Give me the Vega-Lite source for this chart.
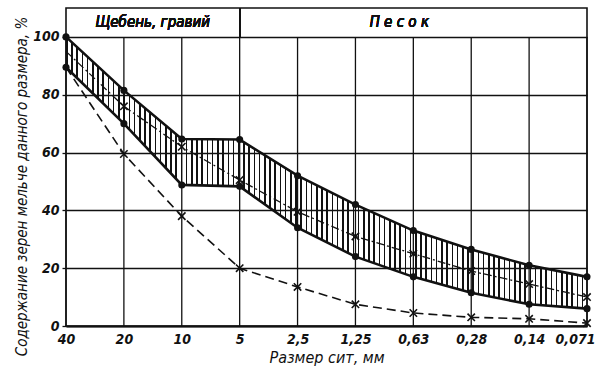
{
  "$schema": "https://vega.github.io/schema/vega-lite/v6.json",
  "autosize": "none",
  "width": 521,
  "height": 318,
  "padding": {"left": 66, "top": 8, "right": 13, "bottom": 48},
  "background": "white",
  "config": {
    "view": {"stroke": "#111", "strokeWidth": 1.6},
    "font": "DejaVu Sans Condensed"
  },
  "data": {
    "values": [
      {"s": "40", "hi": 100, "lo": 89.5, "mid": 95, "low": 89.5},
      {"s": "20", "hi": 81.5, "lo": 70, "mid": 76, "low": 59.5},
      {"s": "10", "hi": 64.7, "lo": 48.8, "mid": 62, "low": 38},
      {"s": "5", "hi": 64.5, "lo": 48.3, "mid": 50.5, "low": 20},
      {"s": "2,5", "hi": 52, "lo": 34, "mid": 39.5, "low": 13.5},
      {"s": "1,25", "hi": 42, "lo": 24, "mid": 31, "low": 7.5},
      {"s": "0,63", "hi": 33, "lo": 17, "mid": 25, "low": 4.5},
      {"s": "0,28", "hi": 26.5, "lo": 11.5, "mid": 19, "low": 3},
      {"s": "0,14", "hi": 21, "lo": 7.5, "mid": 14.5, "low": 2.5},
      {"s": "0,071", "hi": 17, "lo": 6, "mid": 10, "low": 1}
    ]
  },
  "encoding": {
    "x": {
      "field": "s",
      "type": "ordinal",
      "scale": {"type": "point", "padding": 0, "domain": ["40", "20", "10", "5", "2,5", "1,25", "0,63", "0,28", "0,14", "0,071"]},
      "axis": {
        "title": "Размер сит, мм",
        "labelAngle": 0,
        "labelFont": "DejaVu Sans Condensed",
        "labelFontSize": 14,
        "labelFontStyle": "italic",
        "labelFontWeight": "bold",
        "labelColor": "#111",
        "labelPadding": 6,
        "labelAlign": "center",
        "labelOffset": {"condition": {"test": "datum.value == '0,071'", "value": -12}, "value": 0},
        "labelOverlap": false,
        "labelBound": false,
        "ticks": false,
        "domain": true,
        "domainColor": "#111",
        "domainWidth": 2.2,
        "grid": false,
        "titleFont": "DejaVu Sans Condensed",
        "titleFontSize": 16,
        "titleFontStyle": "italic",
        "titleFontWeight": "normal",
        "titleColor": "#111",
        "titlePadding": 3
      }
    }
  },
  "layer": [
    {
      "mark": {"type": "rule", "color": "#111", "strokeWidth": 1.3},
      "encoding": {"y": {"datum": 0}, "y2": {"datum": 100}}
    },
    {
      "mark": {"type": "rule", "color": "#111", "strokeWidth": 1.3},
      "encoding": {"x": {"datum": "5"}, "y": {"datum": 100}, "y2": {"datum": 110}}
    },
    {
      "mark": {
        "type": "area",
        "color": {
          "gradient": "linear", "x1": 0, "x2": 1, "y1": 0, "y2": 0,
          "stops": [
            {"offset":0,"color":"#111"},{"offset":0.003,"color":"#111"},{"offset":0.003,"color":"transparent"},{"offset":0.01,"color":"transparent"},
            {"offset":0.01,"color":"#111"},{"offset":0.013,"color":"#111"},{"offset":0.013,"color":"transparent"},{"offset":0.02,"color":"transparent"},
            {"offset":0.02,"color":"#111"},{"offset":0.023,"color":"#111"},{"offset":0.023,"color":"transparent"},{"offset":0.03,"color":"transparent"},
            {"offset":0.03,"color":"#111"},{"offset":0.033,"color":"#111"},{"offset":0.033,"color":"transparent"},{"offset":0.04,"color":"transparent"},
            {"offset":0.04,"color":"#111"},{"offset":0.043,"color":"#111"},{"offset":0.043,"color":"transparent"},{"offset":0.05,"color":"transparent"},
            {"offset":0.05,"color":"#111"},{"offset":0.053,"color":"#111"},{"offset":0.053,"color":"transparent"},{"offset":0.06,"color":"transparent"},
            {"offset":0.06,"color":"#111"},{"offset":0.063,"color":"#111"},{"offset":0.063,"color":"transparent"},{"offset":0.07,"color":"transparent"},
            {"offset":0.07,"color":"#111"},{"offset":0.073,"color":"#111"},{"offset":0.073,"color":"transparent"},{"offset":0.08,"color":"transparent"},
            {"offset":0.08,"color":"#111"},{"offset":0.083,"color":"#111"},{"offset":0.083,"color":"transparent"},{"offset":0.09,"color":"transparent"},
            {"offset":0.09,"color":"#111"},{"offset":0.093,"color":"#111"},{"offset":0.093,"color":"transparent"},{"offset":0.1,"color":"transparent"},
            {"offset":0.1,"color":"#111"},{"offset":0.103,"color":"#111"},{"offset":0.103,"color":"transparent"},{"offset":0.11,"color":"transparent"},
            {"offset":0.11,"color":"#111"},{"offset":0.113,"color":"#111"},{"offset":0.113,"color":"transparent"},{"offset":0.12,"color":"transparent"},
            {"offset":0.12,"color":"#111"},{"offset":0.123,"color":"#111"},{"offset":0.123,"color":"transparent"},{"offset":0.13,"color":"transparent"},
            {"offset":0.13,"color":"#111"},{"offset":0.133,"color":"#111"},{"offset":0.133,"color":"transparent"},{"offset":0.14,"color":"transparent"},
            {"offset":0.14,"color":"#111"},{"offset":0.143,"color":"#111"},{"offset":0.143,"color":"transparent"},{"offset":0.15,"color":"transparent"},
            {"offset":0.15,"color":"#111"},{"offset":0.153,"color":"#111"},{"offset":0.153,"color":"transparent"},{"offset":0.16,"color":"transparent"},
            {"offset":0.16,"color":"#111"},{"offset":0.163,"color":"#111"},{"offset":0.163,"color":"transparent"},{"offset":0.17,"color":"transparent"},
            {"offset":0.17,"color":"#111"},{"offset":0.173,"color":"#111"},{"offset":0.173,"color":"transparent"},{"offset":0.18,"color":"transparent"},
            {"offset":0.18,"color":"#111"},{"offset":0.183,"color":"#111"},{"offset":0.183,"color":"transparent"},{"offset":0.19,"color":"transparent"},
            {"offset":0.19,"color":"#111"},{"offset":0.193,"color":"#111"},{"offset":0.193,"color":"transparent"},{"offset":0.2,"color":"transparent"},
            {"offset":0.2,"color":"#111"},{"offset":0.203,"color":"#111"},{"offset":0.203,"color":"transparent"},{"offset":0.21,"color":"transparent"},
            {"offset":0.21,"color":"#111"},{"offset":0.213,"color":"#111"},{"offset":0.213,"color":"transparent"},{"offset":0.22,"color":"transparent"},
            {"offset":0.22,"color":"#111"},{"offset":0.223,"color":"#111"},{"offset":0.223,"color":"transparent"},{"offset":0.23,"color":"transparent"},
            {"offset":0.23,"color":"#111"},{"offset":0.233,"color":"#111"},{"offset":0.233,"color":"transparent"},{"offset":0.24,"color":"transparent"},
            {"offset":0.24,"color":"#111"},{"offset":0.243,"color":"#111"},{"offset":0.243,"color":"transparent"},{"offset":0.25,"color":"transparent"},
            {"offset":0.25,"color":"#111"},{"offset":0.253,"color":"#111"},{"offset":0.253,"color":"transparent"},{"offset":0.26,"color":"transparent"},
            {"offset":0.26,"color":"#111"},{"offset":0.263,"color":"#111"},{"offset":0.263,"color":"transparent"},{"offset":0.27,"color":"transparent"},
            {"offset":0.27,"color":"#111"},{"offset":0.273,"color":"#111"},{"offset":0.273,"color":"transparent"},{"offset":0.28,"color":"transparent"},
            {"offset":0.28,"color":"#111"},{"offset":0.283,"color":"#111"},{"offset":0.283,"color":"transparent"},{"offset":0.29,"color":"transparent"},
            {"offset":0.29,"color":"#111"},{"offset":0.293,"color":"#111"},{"offset":0.293,"color":"transparent"},{"offset":0.3,"color":"transparent"},
            {"offset":0.3,"color":"#111"},{"offset":0.303,"color":"#111"},{"offset":0.303,"color":"transparent"},{"offset":0.31,"color":"transparent"},
            {"offset":0.31,"color":"#111"},{"offset":0.313,"color":"#111"},{"offset":0.313,"color":"transparent"},{"offset":0.32,"color":"transparent"},
            {"offset":0.32,"color":"#111"},{"offset":0.323,"color":"#111"},{"offset":0.323,"color":"transparent"},{"offset":0.33,"color":"transparent"},
            {"offset":0.33,"color":"#111"},{"offset":0.333,"color":"#111"},{"offset":0.333,"color":"transparent"},{"offset":0.34,"color":"transparent"},
            {"offset":0.34,"color":"#111"},{"offset":0.343,"color":"#111"},{"offset":0.343,"color":"transparent"},{"offset":0.35,"color":"transparent"},
            {"offset":0.35,"color":"#111"},{"offset":0.353,"color":"#111"},{"offset":0.353,"color":"transparent"},{"offset":0.36,"color":"transparent"},
            {"offset":0.36,"color":"#111"},{"offset":0.363,"color":"#111"},{"offset":0.363,"color":"transparent"},{"offset":0.37,"color":"transparent"},
            {"offset":0.37,"color":"#111"},{"offset":0.373,"color":"#111"},{"offset":0.373,"color":"transparent"},{"offset":0.38,"color":"transparent"},
            {"offset":0.38,"color":"#111"},{"offset":0.383,"color":"#111"},{"offset":0.383,"color":"transparent"},{"offset":0.39,"color":"transparent"},
            {"offset":0.39,"color":"#111"},{"offset":0.393,"color":"#111"},{"offset":0.393,"color":"transparent"},{"offset":0.4,"color":"transparent"},
            {"offset":0.4,"color":"#111"},{"offset":0.403,"color":"#111"},{"offset":0.403,"color":"transparent"},{"offset":0.41,"color":"transparent"},
            {"offset":0.41,"color":"#111"},{"offset":0.413,"color":"#111"},{"offset":0.413,"color":"transparent"},{"offset":0.42,"color":"transparent"},
            {"offset":0.42,"color":"#111"},{"offset":0.423,"color":"#111"},{"offset":0.423,"color":"transparent"},{"offset":0.43,"color":"transparent"},
            {"offset":0.43,"color":"#111"},{"offset":0.433,"color":"#111"},{"offset":0.433,"color":"transparent"},{"offset":0.44,"color":"transparent"},
            {"offset":0.44,"color":"#111"},{"offset":0.443,"color":"#111"},{"offset":0.443,"color":"transparent"},{"offset":0.45,"color":"transparent"},
            {"offset":0.45,"color":"#111"},{"offset":0.453,"color":"#111"},{"offset":0.453,"color":"transparent"},{"offset":0.46,"color":"transparent"},
            {"offset":0.46,"color":"#111"},{"offset":0.463,"color":"#111"},{"offset":0.463,"color":"transparent"},{"offset":0.47,"color":"transparent"},
            {"offset":0.47,"color":"#111"},{"offset":0.473,"color":"#111"},{"offset":0.473,"color":"transparent"},{"offset":0.48,"color":"transparent"},
            {"offset":0.48,"color":"#111"},{"offset":0.483,"color":"#111"},{"offset":0.483,"color":"transparent"},{"offset":0.49,"color":"transparent"},
            {"offset":0.49,"color":"#111"},{"offset":0.493,"color":"#111"},{"offset":0.493,"color":"transparent"},{"offset":0.5,"color":"transparent"},
            {"offset":0.5,"color":"#111"},{"offset":0.503,"color":"#111"},{"offset":0.503,"color":"transparent"},{"offset":0.51,"color":"transparent"},
            {"offset":0.51,"color":"#111"},{"offset":0.513,"color":"#111"},{"offset":0.513,"color":"transparent"},{"offset":0.52,"color":"transparent"},
            {"offset":0.52,"color":"#111"},{"offset":0.523,"color":"#111"},{"offset":0.523,"color":"transparent"},{"offset":0.53,"color":"transparent"},
            {"offset":0.53,"color":"#111"},{"offset":0.533,"color":"#111"},{"offset":0.533,"color":"transparent"},{"offset":0.54,"color":"transparent"},
            {"offset":0.54,"color":"#111"},{"offset":0.543,"color":"#111"},{"offset":0.543,"color":"transparent"},{"offset":0.55,"color":"transparent"},
            {"offset":0.55,"color":"#111"},{"offset":0.553,"color":"#111"},{"offset":0.553,"color":"transparent"},{"offset":0.56,"color":"transparent"},
            {"offset":0.56,"color":"#111"},{"offset":0.563,"color":"#111"},{"offset":0.563,"color":"transparent"},{"offset":0.57,"color":"transparent"},
            {"offset":0.57,"color":"#111"},{"offset":0.573,"color":"#111"},{"offset":0.573,"color":"transparent"},{"offset":0.58,"color":"transparent"},
            {"offset":0.58,"color":"#111"},{"offset":0.583,"color":"#111"},{"offset":0.583,"color":"transparent"},{"offset":0.59,"color":"transparent"},
            {"offset":0.59,"color":"#111"},{"offset":0.593,"color":"#111"},{"offset":0.593,"color":"transparent"},{"offset":0.6,"color":"transparent"},
            {"offset":0.6,"color":"#111"},{"offset":0.603,"color":"#111"},{"offset":0.603,"color":"transparent"},{"offset":0.61,"color":"transparent"},
            {"offset":0.61,"color":"#111"},{"offset":0.613,"color":"#111"},{"offset":0.613,"color":"transparent"},{"offset":0.62,"color":"transparent"},
            {"offset":0.62,"color":"#111"},{"offset":0.623,"color":"#111"},{"offset":0.623,"color":"transparent"},{"offset":0.63,"color":"transparent"},
            {"offset":0.63,"color":"#111"},{"offset":0.633,"color":"#111"},{"offset":0.633,"color":"transparent"},{"offset":0.64,"color":"transparent"},
            {"offset":0.64,"color":"#111"},{"offset":0.643,"color":"#111"},{"offset":0.643,"color":"transparent"},{"offset":0.65,"color":"transparent"},
            {"offset":0.65,"color":"#111"},{"offset":0.653,"color":"#111"},{"offset":0.653,"color":"transparent"},{"offset":0.66,"color":"transparent"},
            {"offset":0.66,"color":"#111"},{"offset":0.663,"color":"#111"},{"offset":0.663,"color":"transparent"},{"offset":0.67,"color":"transparent"},
            {"offset":0.67,"color":"#111"},{"offset":0.673,"color":"#111"},{"offset":0.673,"color":"transparent"},{"offset":0.68,"color":"transparent"},
            {"offset":0.68,"color":"#111"},{"offset":0.683,"color":"#111"},{"offset":0.683,"color":"transparent"},{"offset":0.69,"color":"transparent"},
            {"offset":0.69,"color":"#111"},{"offset":0.693,"color":"#111"},{"offset":0.693,"color":"transparent"},{"offset":0.7,"color":"transparent"},
            {"offset":0.7,"color":"#111"},{"offset":0.703,"color":"#111"},{"offset":0.703,"color":"transparent"},{"offset":0.71,"color":"transparent"},
            {"offset":0.71,"color":"#111"},{"offset":0.713,"color":"#111"},{"offset":0.713,"color":"transparent"},{"offset":0.72,"color":"transparent"},
            {"offset":0.72,"color":"#111"},{"offset":0.723,"color":"#111"},{"offset":0.723,"color":"transparent"},{"offset":0.73,"color":"transparent"},
            {"offset":0.73,"color":"#111"},{"offset":0.733,"color":"#111"},{"offset":0.733,"color":"transparent"},{"offset":0.74,"color":"transparent"},
            {"offset":0.74,"color":"#111"},{"offset":0.743,"color":"#111"},{"offset":0.743,"color":"transparent"},{"offset":0.75,"color":"transparent"},
            {"offset":0.75,"color":"#111"},{"offset":0.753,"color":"#111"},{"offset":0.753,"color":"transparent"},{"offset":0.76,"color":"transparent"},
            {"offset":0.76,"color":"#111"},{"offset":0.763,"color":"#111"},{"offset":0.763,"color":"transparent"},{"offset":0.77,"color":"transparent"},
            {"offset":0.77,"color":"#111"},{"offset":0.773,"color":"#111"},{"offset":0.773,"color":"transparent"},{"offset":0.78,"color":"transparent"},
            {"offset":0.78,"color":"#111"},{"offset":0.783,"color":"#111"},{"offset":0.783,"color":"transparent"},{"offset":0.79,"color":"transparent"},
            {"offset":0.79,"color":"#111"},{"offset":0.793,"color":"#111"},{"offset":0.793,"color":"transparent"},{"offset":0.8,"color":"transparent"},
            {"offset":0.8,"color":"#111"},{"offset":0.803,"color":"#111"},{"offset":0.803,"color":"transparent"},{"offset":0.81,"color":"transparent"},
            {"offset":0.81,"color":"#111"},{"offset":0.813,"color":"#111"},{"offset":0.813,"color":"transparent"},{"offset":0.82,"color":"transparent"},
            {"offset":0.82,"color":"#111"},{"offset":0.823,"color":"#111"},{"offset":0.823,"color":"transparent"},{"offset":0.83,"color":"transparent"},
            {"offset":0.83,"color":"#111"},{"offset":0.833,"color":"#111"},{"offset":0.833,"color":"transparent"},{"offset":0.84,"color":"transparent"},
            {"offset":0.84,"color":"#111"},{"offset":0.843,"color":"#111"},{"offset":0.843,"color":"transparent"},{"offset":0.85,"color":"transparent"},
            {"offset":0.85,"color":"#111"},{"offset":0.853,"color":"#111"},{"offset":0.853,"color":"transparent"},{"offset":0.86,"color":"transparent"},
            {"offset":0.86,"color":"#111"},{"offset":0.863,"color":"#111"},{"offset":0.863,"color":"transparent"},{"offset":0.87,"color":"transparent"},
            {"offset":0.87,"color":"#111"},{"offset":0.873,"color":"#111"},{"offset":0.873,"color":"transparent"},{"offset":0.88,"color":"transparent"},
            {"offset":0.88,"color":"#111"},{"offset":0.883,"color":"#111"},{"offset":0.883,"color":"transparent"},{"offset":0.89,"color":"transparent"},
            {"offset":0.89,"color":"#111"},{"offset":0.893,"color":"#111"},{"offset":0.893,"color":"transparent"},{"offset":0.9,"color":"transparent"},
            {"offset":0.9,"color":"#111"},{"offset":0.903,"color":"#111"},{"offset":0.903,"color":"transparent"},{"offset":0.91,"color":"transparent"},
            {"offset":0.91,"color":"#111"},{"offset":0.913,"color":"#111"},{"offset":0.913,"color":"transparent"},{"offset":0.92,"color":"transparent"},
            {"offset":0.92,"color":"#111"},{"offset":0.923,"color":"#111"},{"offset":0.923,"color":"transparent"},{"offset":0.93,"color":"transparent"},
            {"offset":0.93,"color":"#111"},{"offset":0.933,"color":"#111"},{"offset":0.933,"color":"transparent"},{"offset":0.94,"color":"transparent"},
            {"offset":0.94,"color":"#111"},{"offset":0.943,"color":"#111"},{"offset":0.943,"color":"transparent"},{"offset":0.95,"color":"transparent"},
            {"offset":0.95,"color":"#111"},{"offset":0.953,"color":"#111"},{"offset":0.953,"color":"transparent"},{"offset":0.96,"color":"transparent"},
            {"offset":0.96,"color":"#111"},{"offset":0.963,"color":"#111"},{"offset":0.963,"color":"transparent"},{"offset":0.97,"color":"transparent"},
            {"offset":0.97,"color":"#111"},{"offset":0.973,"color":"#111"},{"offset":0.973,"color":"transparent"},{"offset":0.98,"color":"transparent"},
            {"offset":0.98,"color":"#111"},{"offset":0.983,"color":"#111"},{"offset":0.983,"color":"transparent"},{"offset":0.99,"color":"transparent"},
            {"offset":0.99,"color":"#111"},{"offset":0.993,"color":"#111"},{"offset":0.993,"color":"transparent"},{"offset":1,"color":"transparent"}
          ]
        }
      },
      "encoding": {
        "y": {
          "field": "lo",
          "type": "quantitative",
          "scale": {"domain": [0, 110], "nice": false, "zero": true},
          "axis": {
            "values": [0, 20, 40, 60, 80, 100],
            "grid": true,
            "gridColor": "#111",
            "gridWidth": 1.3,
            "gridOpacity": 1,
            "domain": false,
            "ticks": true,
            "tickSize": 4,
            "tickColor": "#111",
            "tickWidth": 1.3,
            "labelFont": "DejaVu Sans Condensed",
            "labelFontSize": 14,
            "labelFontStyle": "italic",
            "labelFontWeight": "bold",
            "labelColor": "#111",
            "labelPadding": 3,
            "title": "Содержание зерен мельче данного размера, %",
            "titleFont": "DejaVu Sans Condensed",
            "titleFontSize": 15,
            "titleFontStyle": "italic",
            "titleFontWeight": "normal",
            "titleColor": "#111",
            "titlePadding": 3,
            "titleY": 178
          }
        },
        "y2": {"field": "hi"}
      }
    },
    {
      "mark": {"type": "line", "color": "#111", "strokeWidth": 2.6},
      "encoding": {"y": {"field": "hi", "type": "quantitative"}}
    },
    {
      "mark": {"type": "line", "color": "#111", "strokeWidth": 2.6},
      "encoding": {"y": {"field": "lo", "type": "quantitative"}}
    },
    {
      "mark": {"type": "line", "color": "#111", "strokeWidth": 1.3, "strokeDash": [8, 3, 2, 3]},
      "encoding": {"y": {"field": "mid", "type": "quantitative"}}
    },
    {
      "mark": {"type": "line", "color": "#111", "strokeWidth": 1.6, "strokeDash": [9, 5]},
      "encoding": {"y": {"field": "low", "type": "quantitative"}}
    },
    {
      "mark": {"type": "point", "filled": true, "color": "#111", "opacity": 1, "size": 50},
      "encoding": {"y": {"field": "hi", "type": "quantitative"}}
    },
    {
      "mark": {"type": "point", "filled": true, "color": "#111", "opacity": 1, "size": 50},
      "encoding": {"y": {"field": "lo", "type": "quantitative"}}
    },
    {
      "transform": [{"filter": "datum.s != '40'"}],
      "mark": {"type": "point", "shape": "M-1,-1L1,1M1,-1L-1,1", "filled": false, "color": "#111", "opacity": 1, "size": 55, "strokeWidth": 1.6},
      "encoding": {"y": {"field": "mid", "type": "quantitative"}}
    },
    {
      "transform": [{"filter": "datum.s != '40'"}],
      "mark": {"type": "point", "shape": "M-1,-1L1,1M1,-1L-1,1", "filled": false, "color": "#111", "opacity": 1, "size": 55, "strokeWidth": 1.6},
      "encoding": {"y": {"field": "low", "type": "quantitative"}}
    },
    {
      "mark": {"type": "text", "text": "Щебень, гравий", "font": "DejaVu Sans Condensed", "fontSize": 15, "fontStyle": "italic", "fontWeight": "normal", "color": "#111", "align": "center", "baseline": "middle", "dx": -29},
      "encoding": {"x": {"datum": "10"}, "y": {"datum": 105}}
    },
    {
      "mark": {"type": "text", "text": "П е с о к", "font": "DejaVu Sans Condensed", "fontSize": 15, "fontStyle": "italic", "fontWeight": "normal", "color": "#111", "align": "center", "baseline": "middle", "dx": -14},
      "encoding": {"x": {"datum": "0,63"}, "y": {"datum": 105}}
    }
  ]
}
